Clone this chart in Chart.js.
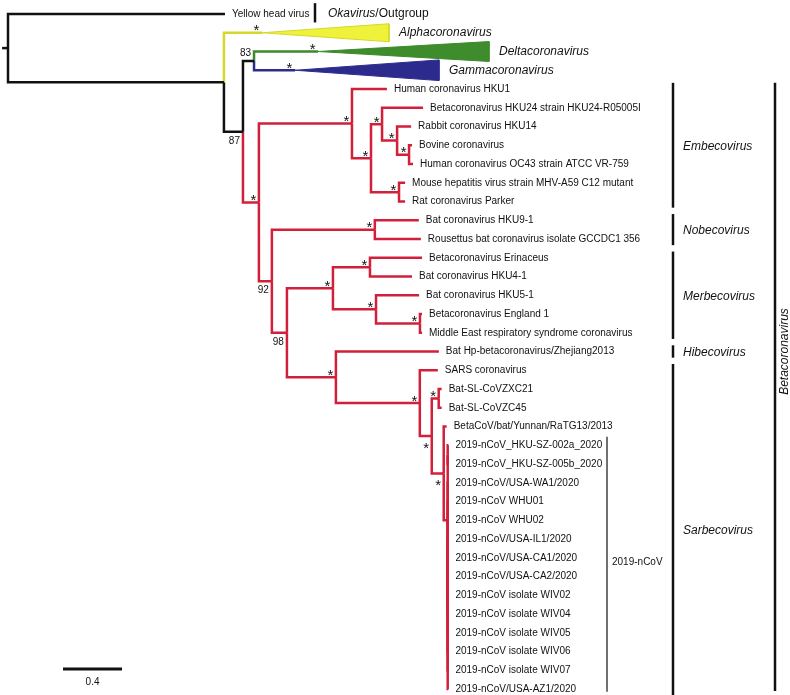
<!DOCTYPE html>
<html>
<head>
<meta charset="utf-8">
<title>Coronavirus phylogeny</title>
<script src="https://cdn.jsdelivr.net/npm/chart.js@4.4.1/dist/chart.umd.min.js"></script>
<style>
  html, body { margin: 0; padding: 0; background: #fff; }
  canvas { display: block; }
</style>
</head>
<body>
<canvas id="tree" width="790" height="695"></canvas>
<script>
// tree edges, top to bottom: child, parent, branch length (substitutions/site)
const edgeChild = [
  "Yellow head virus", "n1", "Alphacoronavirus", "n2", "n3", "Deltacoronavirus", "Gammacoronavirus",
  "beta", "embeco", "Human coronavirus HKU1", "e1", "e2", "Betacoronavirus HKU24 strain HKU24-R05005I",
  "e3", "Rabbit coronavirus HKU14", "e4", "Bovine coronavirus", "Human coronavirus OC43 strain ATCC VR-759",
  "e5", "Mouse hepatitis virus strain MHV-A59 C12 mutant", "Rat coronavirus Parker",
  "n5", "nobeco", "Bat coronavirus HKU9-1", "Rousettus bat coronavirus isolate GCCDC1 356",
  "n6", "merbeco", "m1", "Betacoronavirus Erinaceus", "Bat coronavirus HKU4-1",
  "m2", "Bat coronavirus HKU5-1", "m3", "Betacoronavirus England 1", "Middle East respiratory syndrome coronavirus",
  "n7", "Bat Hp-betacoronavirus/Zhejiang2013", "sarbeco", "SARS coronavirus", "s1", "s2",
  "Bat-SL-CoVZXC21", "Bat-SL-CoVZC45", "s3", "BetaCoV/bat/Yunnan/RaTG13/2013", "ncov",
  "ncovA", "2019-nCoV_HKU-SZ-002a_2020", "2019-nCoV_HKU-SZ-005b_2020",
  "ncovB", "2019-nCoV/USA-WA1/2020", "2019-nCoV WHU01", "2019-nCoV WHU02", "2019-nCoV/USA-IL1/2020",
  "2019-nCoV/USA-CA1/2020", "2019-nCoV/USA-CA2/2020", "2019-nCoV isolate WIV02", "2019-nCoV isolate WIV04",
  "2019-nCoV isolate WIV05", "2019-nCoV isolate WIV06", "2019-nCoV isolate WIV07", "2019-nCoV/USA-AZ1/2020",
];
const edgeParent = [
  "root", "root", "n1", "n1", "n2", "n3", "n3",
  "n2", "beta", "embeco", "embeco", "e1", "e2",
  "e2", "e3", "e3", "e4", "e4",
  "e1", "e5", "e5",
  "beta", "n5", "nobeco", "nobeco",
  "n5", "n6", "merbeco", "m1", "m1",
  "merbeco", "m2", "m2", "m3", "m3",
  "n6", "n7", "n7", "sarbeco", "sarbeco", "s1",
  "s2", "s2", "s1", "s3", "s3",
  "ncov", "ncovA", "ncovA",
  "ncov", "ncovB", "ncovB", "ncovB", "ncovB",
  "ncovB", "ncovB", "ncovB", "ncovB",
  "ncovB", "ncovB", "ncovB", "ncovB",
];
const edgeLength = [
  1.471, 1.464, 0.258, 0.129, 0.075, 0.434, 0.278,
  0.108, 0.631, 0.237, 0.129, 0.075, 0.278,
  0.102, 0.095, 0.081, 0.02, 0.027,
  0.19, 0.041, 0.041,
  0.088, 0.698, 0.298, 0.312,
  0.102, 0.312, 0.251, 0.353, 0.285,
  0.292, 0.292, 0.298, 0.014, 0.014,
  0.332, 0.698, 0.569, 0.122, 0.081, 0.047,
  0.02, 0.02, 0.081, 0.02, 0.027,
  0, 0.005, 0.005,
  0, 0.005, 0.005, 0.005, 0.005,
  0.005, 0.005, 0.005, 0.005,
  0.005, 0.005, 0.005, 0.005,
];

// collapsed genera: depth of the triangle and half its height in tip rows
const collapsedNames = ["Alphacoronavirus", "Deltacoronavirus", "Gammacoronavirus"];
const collapsedDepth = [0.861, 1.159, 0.976];
const collapsedRows = [0.48, 0.53, 0.55];

// node support
const supportNodes = [
  "Alphacoronavirus", "n3", "Deltacoronavirus", "Gammacoronavirus", "n2", "beta", "embeco", "e1", "e2", "e3",
  "e4", "e5", "n5", "nobeco", "n6", "merbeco", "m1", "m2", "m3", "n7", "sarbeco", "s1", "s2", "s3",
];
const supportValues = [
  "*", "83", "*", "*", "87", "*", "*", "*", "*", "*",
  "*", "*", "92", "*", "98", "*", "*", "*", "*", "*", "*", "*", "*", "*",
];
const supportBelow = ["n2", "n5", "n6", "s1", "s3"];

// subgenus bars
const subgenusNames = ["Embecovirus", "Nobecovirus", "Merbecovirus", "Hibecovirus", "Sarbecovirus"];
const subgenusFirst = [
  "Human coronavirus HKU1", "Bat coronavirus HKU9-1", "Betacoronavirus Erinaceus",
  "Bat Hp-betacoronavirus/Zhejiang2013", "SARS coronavirus",
];
const subgenusLast = [
  "Rat coronavirus Parker", "Rousettus bat coronavirus isolate GCCDC1 356",
  "Middle East respiratory syndrome coronavirus", "Bat Hp-betacoronavirus/Zhejiang2013", "2019-nCoV/USA-AZ1/2020",
];

const scaleBarStart = 0.373;
const scaleBarLength = 0.4;

const colours = {
  Alphacoronavirus: { line: "#d5d72c", fill: "#eff23a" },
  Deltacoronavirus: { line: "#3c8a2c", fill: "#3f8c2c" },
  Gammacoronavirus: { line: "#2d2b8c", fill: "#2c2a8c" },
  beta: { line: "#d21f3a" },
};
const FONT = "'Liberation Sans', Arial, sans-serif";

// lay out the tree: depth from the root, row = tip index (internal = midpoint of first/last child)
const children = {};
const parentOf = {};
const lengthOf = {};
edgeChild.forEach((c, i) => {
  (children[edgeParent[i]] ||= []).push(c);
  parentOf[c] = edgeParent[i];
  lengthOf[c] = edgeLength[i];
});
const depth = { root: 0 };
const row = {};
const tips = [];
function place(name) {
  const kids = children[name] || [];
  kids.forEach((k) => {
    depth[k] = depth[name] + lengthOf[k];
    place(k);
  });
  if (!kids.length) {
    row[name] = tips.length;
    tips.push(name);
  } else {
    row[name] = (row[kids[0]] + row[kids[kids.length - 1]]) / 2;
  }
}
place("root");

function colourOf(name) {
  for (let n = name; n; n = parentOf[n]) {
    if (colours[n]) return colours[n];
  }
  return { line: "#111" };
}

const datasets = [];
// root stub
datasets.push({
  data: [{ x: -0.04, y: row.root }, { x: 0, y: row.root }],
  borderColor: "#111",
});
edgeChild.forEach((c) => {
  const p = parentOf[c];
  datasets.push({
    data: [
      { x: depth[p], y: row[p] },
      { x: depth[p], y: row[c] },
      { x: depth[c], y: row[c] },
    ],
    borderColor: colourOf(c).line,
  });
});
collapsedNames.forEach((name, i) => {
  const d = depth[name];
  const r = row[name];
  datasets.push({
    data: [
      { x: d, y: r },
      { x: d + collapsedDepth[i], y: r - collapsedRows[i] },
      { x: d + collapsedDepth[i], y: r + collapsedRows[i] },
      { x: d, y: r },
    ],
    borderColor: colours[name].line,
    backgroundColor: colours[name].fill,
    borderWidth: 1,
    fill: "shape",
  });
});

const textPlugin = {
  id: "treeText",
  afterDatasetsDraw(chart) {
    const { ctx } = chart;
    const px = (v) => chart.scales.x.getPixelForValue(v);
    const py = (v) => chart.scales.y.getPixelForValue(v);
    ctx.save();
    ctx.fillStyle = "#111";
    ctx.strokeStyle = "#111";

    // tip labels
    ctx.font = `10px ${FONT}`;
    ctx.textAlign = "left";
    ctx.textBaseline = "middle";
    tips.forEach((t) => {
      if (collapsedNames.includes(t)) return;
      ctx.fillText(t, px(depth[t]) + 7, py(row[t]));
    });

    // collapsed genus labels
    ctx.font = `italic 12px ${FONT}`;
    collapsedNames.forEach((name, i) => {
      ctx.fillText(name, px(depth[name] + collapsedDepth[i]) + 10, py(row[name]));
    });

    // support values
    ctx.textBaseline = "alphabetic";
    supportNodes.forEach((n, i) => {
      const v = supportValues[i];
      const below = supportBelow.includes(n);
      const x = px(depth[n]);
      const y = py(row[n]);
      if (v === "*") {
        ctx.font = `15px ${FONT}`;
        ctx.textAlign = "center";
        ctx.fillText(v, x - 5.5, below ? y + 17 : y + 2.5);
      } else {
        ctx.font = `10px ${FONT}`;
        ctx.textAlign = "right";
        ctx.fillText(v, x - 3, below ? y + 12 : y - 4.5);
      }
    });

    // outgroup bar
    const bar = (x, top, bottom, w) => {
      ctx.lineWidth = w;
      ctx.beginPath();
      ctx.moveTo(x, top);
      ctx.lineTo(x, bottom);
      ctx.stroke();
    };
    const yh = py(row["Yellow head virus"]);
    bar(315, py(-0.58), py(0.45), 2.5);
    ctx.textAlign = "left";
    ctx.textBaseline = "middle";
    ctx.font = `italic 12px ${FONT}`;
    ctx.fillText("Okavirus", 328, yh);
    const w = ctx.measureText("Okavirus").width;
    ctx.font = `12px ${FONT}`;
    ctx.fillText("/Outgroup", 328 + w, yh);

    // subgenus bars
    const pad = 0.33;
    subgenusNames.forEach((name, i) => {
      const r0 = row[subgenusFirst[i]];
      const r1 = row[subgenusLast[i]];
      bar(673, py(r0 - pad), py(r1 + pad), 2.5);
      ctx.font = `italic 12px ${FONT}`;
      ctx.fillText(name, 683, py((r0 + r1) / 2) + 1);
    });

    // 2019-nCoV bracket
    const c0 = row["2019-nCoV_HKU-SZ-002a_2020"];
    const c1 = row["2019-nCoV/USA-AZ1/2020"];
    bar(607, py(c0 - 0.45), py(c1 + 0.15), 1.2);
    ctx.font = `10px ${FONT}`;
    ctx.fillText("2019-nCoV", 612, py((c0 + c1) / 2) - 5);

    // Betacoronavirus bar
    const b0 = row["Human coronavirus HKU1"];
    const b1 = row["2019-nCoV/USA-AZ1/2020"];
    bar(775, py(b0 - pad), py(b1 + 0.1), 2.5);
    ctx.save();
    ctx.translate(785, py(row["Bat Hp-betacoronavirus/Zhejiang2013"]));
    ctx.rotate(-Math.PI / 2);
    ctx.textAlign = "center";
    ctx.font = `italic 12px ${FONT}`;
    ctx.fillText("Betacoronavirus", 0, 0);
    ctx.restore();

    // scale bar
    const sx0 = px(scaleBarStart);
    const sx1 = px(scaleBarStart + scaleBarLength);
    ctx.lineWidth = 3;
    ctx.beginPath();
    ctx.moveTo(sx0, 669);
    ctx.lineTo(sx1, 669);
    ctx.stroke();
    ctx.font = `10px ${FONT}`;
    ctx.textAlign = "center";
    ctx.fillText(String(scaleBarLength), (sx0 + sx1) / 2, 682);

    ctx.restore();
  },
};

new Chart(document.getElementById("tree"), {
  type: "scatter",
  data: { datasets },
  options: {
    responsive: false,
    animation: false,
    devicePixelRatio: 1,
    layout: { padding: 0 },
    datasets: {
      scatter: {
        showLine: true,
        pointRadius: 0,
        pointHoverRadius: 0,
        borderWidth: 2.5,
        borderJoinStyle: "miter",
        fill: false,
      },
    },
    plugins: { legend: { display: false }, tooltip: { enabled: false } },
    events: [],
    scales: {
      x: { type: "linear", display: false, min: -8 / 147.5, max: 782 / 147.5 },
      y: { type: "linear", display: false, reverse: true, min: -14 / 18.75, max: 681 / 18.75 },
    },
  },
  plugins: [textPlugin],
});
</script>
</body>
</html>
